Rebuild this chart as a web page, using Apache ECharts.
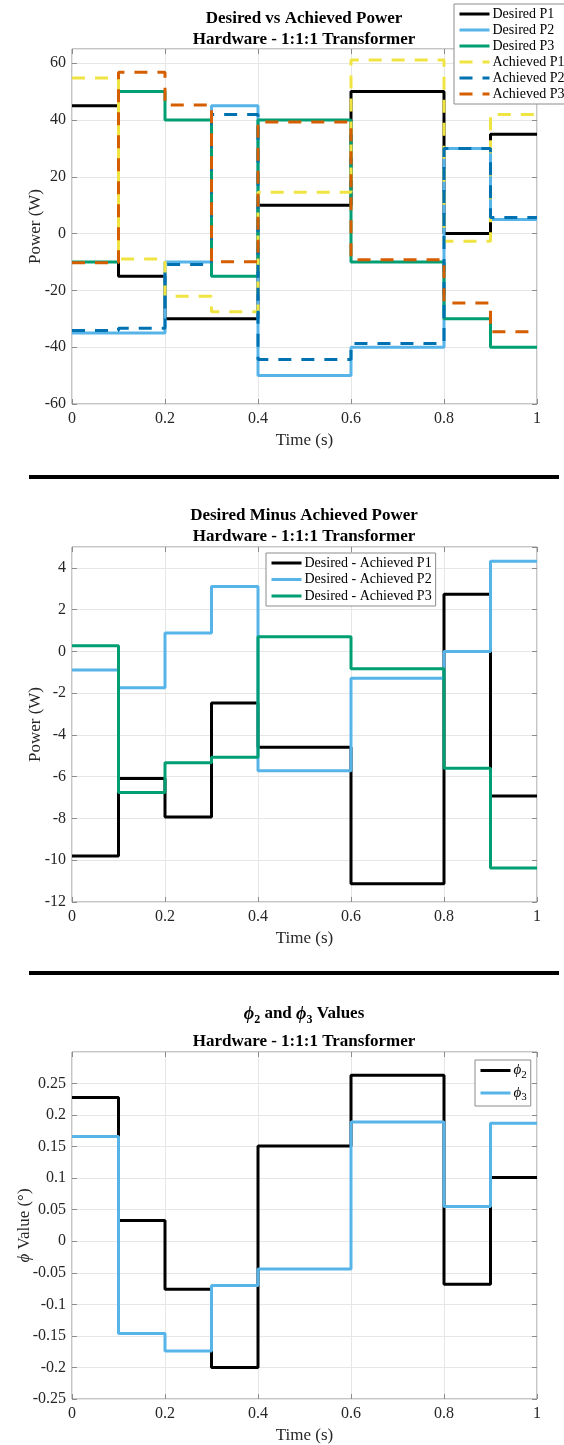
<!DOCTYPE html>
<html>
<head>
<meta charset="utf-8">
<script src="https://cdn.jsdelivr.net/npm/echarts@6/dist/echarts.min.js"></script>
<style>
  html, body { margin: 0; padding: 0; background: #fff; }
  #chart { width: 564px; height: 1445px; }
</style>
</head>
<body>
<div id="chart"></div>
<script>
// segment start times (s); every value holds for 0.1 s
var times = [0, 0.1, 0.2, 0.3, 0.4, 0.5, 0.6, 0.7, 0.8, 0.9];

// chart 1 - desired vs achieved power (W)
var desiredP1 = [45, -15, -30, -30, 10, 10, 50, 50, 0, 35];
var desiredP2 = [-35, -35, -10, 45, -50, -50, -40, -40, 30, 5];
var desiredP3 = [-10, 50, 40, -15, 40, 40, -10, -10, -30, -40];
var achievedP1 = [54.8, -8.9, -22.1, -27.5, 14.6, 14.6, 61.1, 61.1, -2.7, 41.9];
var achievedP2 = [-34.1, -33.3, -10.9, 41.9, -44.3, -44.3, -38.7, -38.7, 30, 5.7];
var achievedP3 = [-10.3, 56.8, 45.3, -9.9, 39.3, 39.3, -9.2, -9.2, -24.4, -34.6];

// chart 2 - desired minus achieved (W)
var diffP1 = [-9.8, -6.09, -7.93, -2.47, -4.59, -4.59, -11.13, -11.13, 2.74, -6.92];
var diffP2 = [-0.89, -1.74, 0.88, 3.11, -5.71, -5.71, -1.28, -1.28, 0, 4.32];
var diffP3 = [0.27, -6.76, -5.33, -5.07, 0.7, 0.7, -0.83, -0.83, -5.6, -10.37];

// chart 3 - phase values
var phi2 = [0.228, 0.033, -0.076, -0.2, 0.151, 0.151, 0.263, 0.263, -0.068, 0.101];
var phi3 = [0.166, -0.146, -0.174, -0.07, -0.044, -0.044, 0.189, 0.189, 0.055, 0.187];

var FONT = "'Liberation Serif', 'Times New Roman', serif";
var C = {
  black: '#000000', lblue: '#56B4E9', green: '#009E73',
  yellow: '#F0E442', blue: '#0072B2', orange: '#D55E00'
};

function steps(vals) {
  var d = [];
  for (var i = 0; i < vals.length; i++) d.push([times[i], vals[i]]);
  d.push([1, vals[vals.length - 1]]);
  return d;
}

function line(name, vals, color, dashed, idx) {
  return {
    name: name, type: 'line', step: 'end',
    xAxisIndex: idx, yAxisIndex: idx,
    data: steps(vals),
    symbol: 'none', showSymbol: false,
    lineStyle: { color: color, width: 3, type: dashed ? [13, 10] : 'solid' },
    itemStyle: { color: color }
  };
}

var grids = [
  { left: 72, top: 49, width: 465, height: 355 },
  { left: 72, top: 547, width: 465, height: 355 },
  { left: 72, top: 1052, width: 465, height: 348 }
];
grids.forEach(function (g) { g.show = true; g.borderColor = '#8c8c8c'; g.borderWidth = 1; g.backgroundColor = '#fff'; });

var tickStyle = { inside: true, length: 5, lineStyle: { color: '#8c8c8c' } };

function xBottom(i) {
  return {
    type: 'value', gridIndex: i, min: 0, max: 1, interval: 0.2,
    name: 'Time (s)', nameLocation: 'middle', nameGap: 28, nameMoveOverlap: false,
    nameTextStyle: { fontFamily: FONT, fontSize: 17, color: '#262626' },
    axisLine: { show: false, onZero: false },
    axisTick: tickStyle,
    axisLabel: { fontFamily: FONT, fontSize: 16, color: '#262626', margin: 7 },
    splitLine: { show: true, lineStyle: { color: '#e6e6e6' } }
  };
}
function xTop(i) {
  return {
    type: 'value', gridIndex: i, position: 'top', min: 0, max: 1, interval: 0.2,
    axisLine: { show: false, onZero: false }, axisLabel: { show: false }, splitLine: { show: false },
    axisTick: tickStyle
  };
}
function yLeft(i, min, max, interval, name, gap) {
  return {
    type: 'value', gridIndex: i, min: min, max: max, interval: interval,
    name: name, nameLocation: 'middle', nameGap: gap, nameMoveOverlap: false,
    nameTextStyle: { fontFamily: FONT, fontSize: 17, color: '#262626',
      rich: { i: { fontFamily: FONT, fontSize: 17, fontStyle: 'italic', color: '#262626' } } },
    axisLine: { show: false, onZero: false },
    axisTick: tickStyle,
    axisLabel: { fontFamily: FONT, fontSize: 16, color: '#262626', margin: 6, showMaxLabel: false },
    splitLine: { show: true, lineStyle: { color: '#e6e6e6' } }
  };
}
function yRight(i, min, max, interval) {
  return {
    type: 'value', gridIndex: i, position: 'right', min: min, max: max, interval: interval,
    axisLine: { show: false, onZero: false }, axisLabel: { show: false }, splitLine: { show: false },
    axisTick: tickStyle
  };
}

function legendBox(left, top, names, gap) {
  return {
    orient: 'vertical', left: left, top: top, data: names,
    itemWidth: 30, itemHeight: 14, itemGap: gap,
    itemStyle: { opacity: 0 },
    lineStyle: { width: 3 },
    padding: [3, 4, 3, 4],
    backgroundColor: '#fff', borderColor: '#8c8c8c', borderWidth: 1, borderRadius: 0,
    textStyle: { fontFamily: FONT, fontSize: 14, color: '#000', padding: [0, 0, 0, -2] }
  };
}

var titleStyle = { fontFamily: FONT, fontSize: 17, fontWeight: 'bold', color: '#000', lineHeight: 21 };

var legend3 = legendBox(475, 1060, ['phi2', 'phi3'], 5);
legend3.formatter = function (n) { return n === 'phi2' ? '{i|ϕ}{s|2}' : '{i|ϕ}{s|3}'; };
legend3.textStyle.rich = {
  i: { fontFamily: FONT, fontSize: 15, fontStyle: 'italic', color: '#000' },
  s: { fontFamily: FONT, fontSize: 11, color: '#000', padding: [9, 0, 0, 0] }
};

var option = {
  animation: false,
  backgroundColor: '#fff',
  title: [
    { text: 'Desired vs Achieved Power\nHardware - 1:1:1 Transformer',
      left: 304, top: 8, textAlign: 'center', padding: 0, textStyle: titleStyle },
    { text: 'Desired Minus Achieved Power\nHardware - 1:1:1 Transformer',
      left: 304, top: 505, textAlign: 'center', padding: 0, textStyle: titleStyle },
    { text: '{i|ϕ}{s|2}{b| and }{i|ϕ}{s|3}{b| Values}\n{b|Hardware - 1:1:1 Transformer}',
      left: 304, top: 1000, textAlign: 'center', padding: 0,
      textStyle: {
        fontFamily: FONT, fontSize: 17, fontWeight: 'bold', color: '#000',
        rich: {
          b: { fontFamily: FONT, fontSize: 17, fontWeight: 'bold', color: '#000', lineHeight: 28 },
          i: { fontFamily: FONT, fontSize: 18, fontWeight: 'bold', fontStyle: 'italic', color: '#000', lineHeight: 28 },
          s: { fontFamily: FONT, fontSize: 12, fontWeight: 'bold', color: '#000', padding: [11, 0, 0, 0] }
        }
      } }
  ],
  grid: grids,
  xAxis: [xBottom(0), xBottom(1), xBottom(2), xTop(0), xTop(1), xTop(2)],
  yAxis: [
    yLeft(0, -60, 65, 20, 'Power (W)', 28),
    yLeft(1, -12, 5, 2, 'Power (W)', 28),
    yLeft(2, -0.25, 0.3, 0.05, '{i|ϕ} Value (°)', 39),
    yRight(0, -60, 65, 20), yRight(1, -12, 5, 2), yRight(2, -0.25, 0.3, 0.05)
  ],
  legend: [
    legendBox(454, 4, ['Desired P1', 'Desired P2', 'Desired P3', 'Achieved P1', 'Achieved P2', 'Achieved P3'], 2),
    legendBox(266, 553, ['Desired - Achieved P1', 'Desired - Achieved P2', 'Desired - Achieved P3'], 2.5),
    legend3
  ],
  graphic: [
    { type: 'rect', shape: { x: 29, y: 475, width: 530, height: 4 }, style: { fill: '#000' } },
    { type: 'rect', shape: { x: 29, y: 971, width: 530, height: 4 }, style: { fill: '#000' } }
  ],
  series: [
    line('Desired P1', desiredP1, C.black, false, 0),
    line('Desired P2', desiredP2, C.lblue, false, 0),
    line('Desired P3', desiredP3, C.green, false, 0),
    line('Achieved P1', achievedP1, C.yellow, true, 0),
    line('Achieved P2', achievedP2, C.blue, true, 0),
    line('Achieved P3', achievedP3, C.orange, true, 0),
    line('Desired - Achieved P1', diffP1, C.black, false, 1),
    line('Desired - Achieved P2', diffP2, C.lblue, false, 1),
    line('Desired - Achieved P3', diffP3, C.green, false, 1),
    line('phi2', phi2, C.black, false, 2),
    line('phi3', phi3, C.lblue, false, 2)
  ]
};

var myChart = echarts.init(document.getElementById('chart'));
myChart.setOption(option);
</script>
</body>
</html>
